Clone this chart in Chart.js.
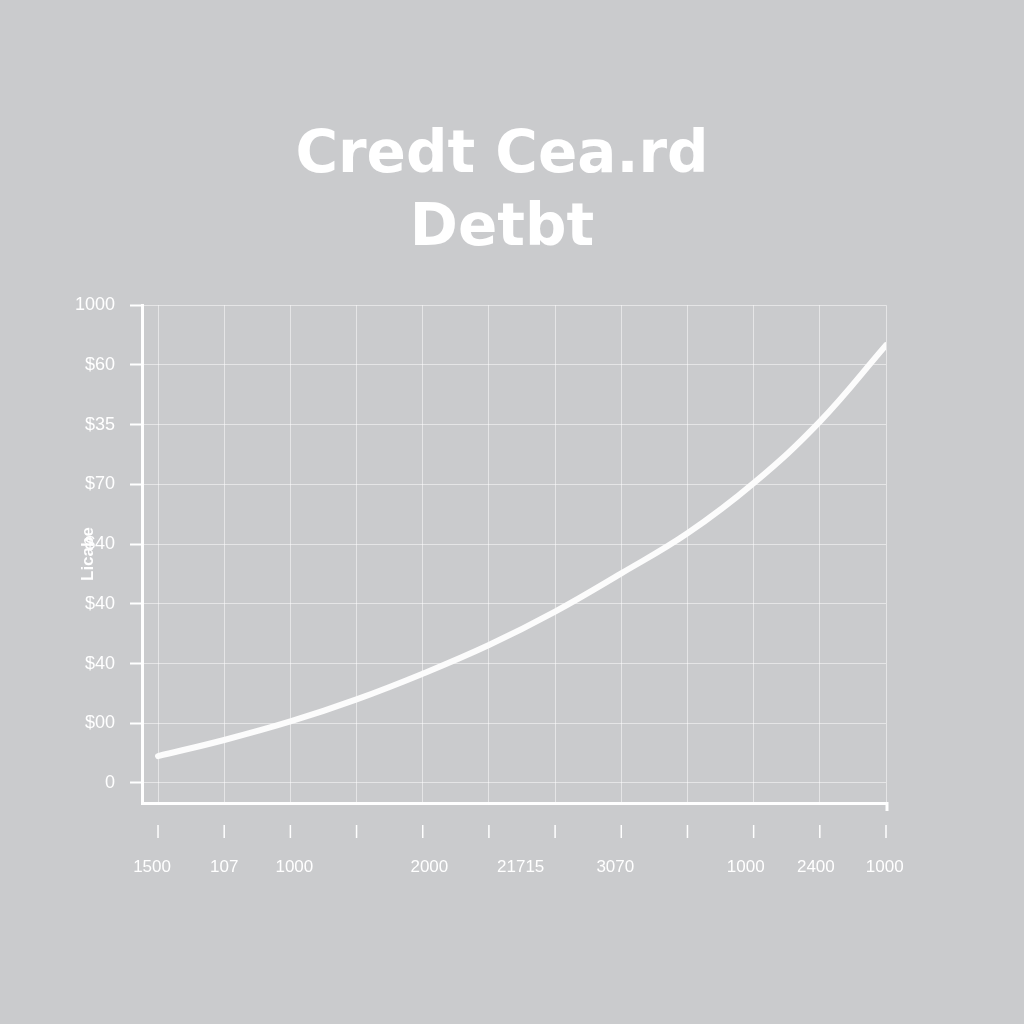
<!DOCTYPE html>
<html><head><meta charset="utf-8">
<script src="https://cdn.jsdelivr.net/npm/chart.js@4.4.0/dist/chart.umd.min.js"></script>
<style>html,body{margin:0;padding:0;background:#cacbcd;}#wrap{width:1024px;height:1024px;}</style>
</head><body><div id="wrap"><canvas id="c" width="1024" height="1024"></canvas></div>
<script>
// ---- data ----
const titleLines = ["Credt Cea.rd", "Detbt"];
const yAxisTitle = "Licabe";
const yTickValues = [0, 1, 2, 3, 4, 5, 6, 7, 8];
const yTickLabels = ["0", "$00", "$40", "$40", "$40", "$70", "$35", "$60", "1000"];
const xGridValues = [0, 1, 2, 3, 4, 5, 6, 7, 8, 9, 10, 11];
const xLabelValues = [-0.09, 1.0, 2.06, 4.1, 5.48, 6.91, 8.88, 9.94, 10.98];
const xTickLabels = ["1500", "107", "1000", "2000", "21715", "3070", "1000", "2400", "1000"];
const debtX = [0, 1, 2, 3, 4, 5, 6, 7, 8, 9, 10, 11];
const debtY = [0.45, 0.72, 1.03, 1.40, 1.83, 2.31, 2.87, 3.51, 4.18, 5.02, 6.05, 7.33];

const BG = '#cacbcd';
const GRID = 'rgba(255,255,255,0.5)';

const bgPlugin = {
  id: 'bg',
  beforeDraw(chart) {
    const ctx = chart.ctx;
    ctx.save();
    ctx.fillStyle = BG;
    ctx.fillRect(0, 0, chart.width, chart.height);
    ctx.restore();
  }
};

const xDecor = {
  id: 'xDecor',
  afterDraw(chart) {
    const ctx = chart.ctx;
    const x = chart.scales.x;
    const base = chart.chartArea.bottom;
    ctx.save();
    ctx.strokeStyle = '#ffffff';
    ctx.lineWidth = 1.5;
    xGridValues.forEach(v => {
      const px = x.getPixelForValue(v);
      ctx.beginPath();
      ctx.moveTo(px, base + 22);
      ctx.lineTo(px, base + 35);
      ctx.stroke();
    });
    // end cap of x axis
    ctx.lineWidth = 3;
    const rx = x.getPixelForValue(x.max) + 1;
    ctx.beginPath();
    ctx.moveTo(rx, base - 1);
    ctx.lineTo(rx, base + 8);
    ctx.stroke();
    ctx.fillStyle = '#ffffff';
    ctx.font = '17px "Liberation Sans", Arial, sans-serif';
    ctx.textAlign = 'center';
    ctx.textBaseline = 'middle';
    xLabelValues.forEach((v, i) => {
      ctx.fillText(xTickLabels[i], x.getPixelForValue(v), base + 64);
    });
    ctx.restore();
  }
};

new Chart(document.getElementById('c'), {
  type: 'line',
  data: {
    datasets: [{
      label: 'Debt',
      data: debtX.map((v, i) => ({ x: v, y: debtY[i] })),
      borderColor: '#fcfcfc',
      borderWidth: 6,
      tension: 0.4,
      pointRadius: 0,
      borderCapStyle: 'round',
      fill: false
    }]
  },
  options: {
    responsive: false,
    devicePixelRatio: 1,
    animation: false,
    layout: { padding: { left: 70, right: 90, top: 0, bottom: 221 } },
    plugins: {
      legend: { display: false },
      tooltip: { enabled: false },
      title: {
        display: true,
        text: titleLines,
        color: '#ffffff',
        font: { family: '"DejaVu Sans", sans-serif', weight: 'bold', size: 58, lineHeight: 1.26 },
        padding: { top: 120, bottom: 39 }
      }
    },
    scales: {
      x: {
        type: 'linear',
        min: -0.242,
        max: 11,
        afterBuildTicks: s => { s.ticks = xGridValues.map(v => ({ value: v })); },
        ticks: { display: false },
        grid: { color: GRID, lineWidth: 1, drawTicks: false },
        border: { color: '#ffffff', width: 3 }
      },
      y: {
        type: 'linear',
        min: -0.335,
        max: 8,
        afterBuildTicks: s => { s.ticks = yTickValues.map(v => ({ value: v })); },
        afterFit: s => { s.width = 72; },
        ticks: {
          color: '#ffffff',
          padding: 15,
          font: { family: '"Liberation Sans", Arial, sans-serif', size: 18 },
          callback: (value, index) => yTickLabels[index]
        },
        grid: { color: GRID, lineWidth: 1, tickLength: 12, tickColor: '#ffffff', tickWidth: 2 },
        border: { color: '#ffffff', width: 3 },
        title: {
          display: true,
          text: yAxisTitle,
          color: '#ffffff',
          font: { family: '"Liberation Sans", sans-serif', weight: 'bold', size: 17, lineHeight: 1.2 },
          padding: { top: 8, bottom: 0 }
        }
      },
      yr: {
        type: 'linear',
        position: 'right',
        min: -0.335,
        max: 8,
        afterFit: s => { s.width = 48; },
        ticks: { display: false },
        grid: { display: false },
        border: { display: false }
      }
    }
  },
  plugins: [bgPlugin, xDecor]
});
</script>
</body></html>
